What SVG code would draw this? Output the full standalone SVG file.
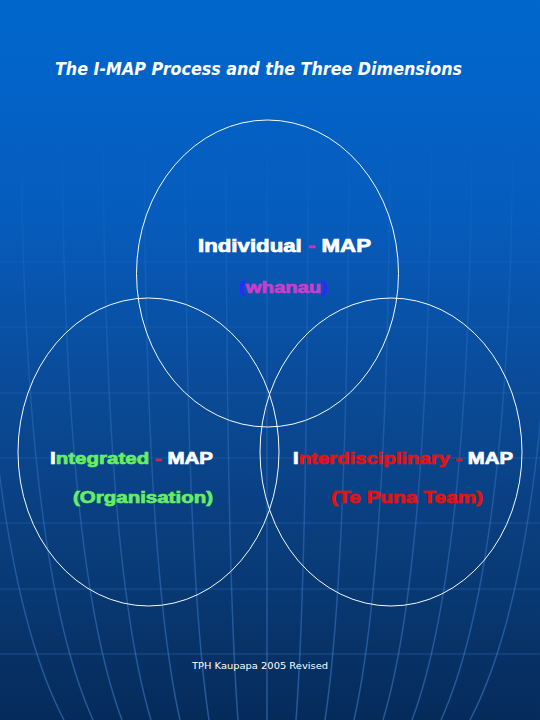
<svg xmlns="http://www.w3.org/2000/svg" width="540" height="720" viewBox="0 0 540 720">
  <defs>
    <linearGradient id="bg" x1="0" y1="0" x2="0" y2="1">
      <stop offset="0" stop-color="#0067cd"/>
      <stop offset="0.3" stop-color="#065cbd"/>
      <stop offset="0.55" stop-color="#0a4a96"/>
      <stop offset="0.8" stop-color="#093a76"/>
      <stop offset="1" stop-color="#052b5a"/>
    </linearGradient>
    <linearGradient id="fade" gradientUnits="userSpaceOnUse" x1="0" y1="120" x2="0" y2="720">
      <stop offset="0" stop-color="#fff" stop-opacity="0"/>
      <stop offset="0.35" stop-color="#fff" stop-opacity="0.45"/>
      <stop offset="1" stop-color="#fff" stop-opacity="1"/>
    </linearGradient>
    <mask id="gridmask" maskUnits="userSpaceOnUse" x="0" y="0" width="540" height="720">
      <rect x="0" y="0" width="540" height="720" fill="url(#fade)"/>
    </mask>
    <style>
      .grid { fill: none; stroke: #4f93e6; stroke-opacity: 0.45; stroke-width: 1.5; }
      .hgrid { fill: none; stroke: #4f93e6; stroke-opacity: 0.35; stroke-width: 1; }
      .ring { fill: none; stroke: #f2faff; stroke-width: 1; }
      .lbl { font-family: "Liberation Sans", Arial, sans-serif; font-weight: bold; stroke-width: 0.7; paint-order: stroke; }
      .title { font-family: "DejaVu Sans", Verdana, sans-serif; font-weight: bold; font-style: italic; font-size: 17px; fill: #ffffff; }
      .foot { font-family: "DejaVu Sans", Verdana, sans-serif; font-size: 9.5px; fill: #ffffff; }
      .w { fill: #ffffff; stroke: #ffffff; }
      .g { fill: #66ee66; stroke: #66ee66; }
      .r { fill: #e01414; stroke: #e01414; }
      .m { fill: #cc3ccc; stroke: #cc3ccc; }
      .b { fill: #2a2aff; stroke: #2a2aff; }
      .pk { fill: #cc33aa; stroke: #cc33aa; }
    </style>
  </defs>

  <rect x="0" y="0" width="540" height="720" fill="url(#bg)"/>

  <g id="background-grid" mask="url(#gridmask)">
    <path class="hgrid" d="M0 262H540M0 327H540M0 393H540M0 458H540M0 523H540M0 589H540M0 654H540"/>
    <path class="grid" d="M267 100V720"/>
    <path class="grid" d="M308 100Q308 560 296 720M349 100Q349 560 325 720M390 100Q390 560 354 720M431 100Q431 560 383 720M472 100Q472 560 412 720M513 100Q513 560 441 720M554 100Q554 560 470 720"/>
    <path class="grid" d="M226 100Q226 560 238 720M185 100Q185 560 209 720M144 100Q144 560 180 720M103 100Q103 560 151 720M62 100Q62 560 122 720M21 100Q21 560 93 720M-20 100Q-20 560 64 720"/>
  </g>

  <text class="title" x="55" y="75" textLength="407" lengthAdjust="spacingAndGlyphs">The I-MAP Process and the Three Dimensions</text>

  <g id="connectors"/>

  <g id="individual">
    <ellipse class="ring" cx="267.5" cy="273.5" rx="131" ry="153.5"/>
    <text class="lbl" x="198" y="252" font-size="17.5" textLength="173" lengthAdjust="spacingAndGlyphs"><tspan class="w">Individual </tspan><tspan class="pk">-</tspan><tspan class="w"> MAP</tspan></text>
    <text class="lbl" x="239" y="293" font-size="16" textLength="89" lengthAdjust="spacingAndGlyphs"><tspan class="b">(</tspan><tspan class="m">whanau</tspan><tspan class="b">)</tspan></text>
  </g>

  <g id="integrated">
    <ellipse class="ring" cx="148.5" cy="452" rx="130.5" ry="154"/>
    <text class="lbl" x="50" y="464" font-size="16.5" textLength="163" lengthAdjust="spacingAndGlyphs"><tspan class="w">I</tspan><tspan class="g">ntegrated </tspan><tspan style="fill:#dd2244;stroke:#dd2244">-</tspan><tspan class="w"> MAP</tspan></text>
    <text class="lbl g" x="73" y="503" font-size="16.5" textLength="140" lengthAdjust="spacingAndGlyphs">(Organisation)</text>
  </g>

  <g id="interdisciplinary">
    <ellipse class="ring" cx="391" cy="452" rx="131" ry="154"/>
    <text class="lbl" x="293" y="464" font-size="16.5" textLength="220" lengthAdjust="spacingAndGlyphs"><tspan class="w">I</tspan><tspan class="r">nterdisciplinary -</tspan><tspan class="w"> MAP</tspan></text>
    <text class="lbl r" x="331" y="503" font-size="16.5" textLength="152" lengthAdjust="spacingAndGlyphs">(Te Puna Team)</text>
  </g>

  <text class="foot" x="192" y="669" textLength="136" lengthAdjust="spacingAndGlyphs">TPH Kaupapa 2005 Revised</text>
</svg>
